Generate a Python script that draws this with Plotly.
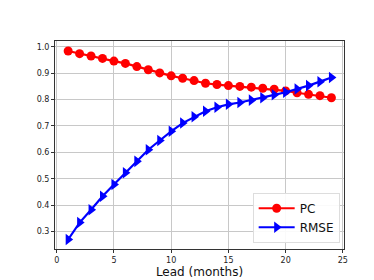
import plotly.graph_objects as go

lead = list(range(1, 25))
pc = [0.984, 0.974, 0.965, 0.956, 0.946, 0.937, 0.925, 0.913, 0.901, 0.890, 0.881, 0.872,
      0.862, 0.857, 0.853, 0.850, 0.847, 0.843, 0.839, 0.833, 0.826, 0.820, 0.815, 0.807]
rmse = [0.270, 0.334, 0.383, 0.434, 0.478, 0.523, 0.566, 0.610, 0.645, 0.680, 0.711, 0.735,
        0.756, 0.771, 0.782, 0.789, 0.798, 0.807, 0.818, 0.828, 0.840, 0.853, 0.868, 0.884]
x_ticks = [0, 5, 10, 15, 20, 25]
y_ticks = [0.3, 0.4, 0.5, 0.6, 0.7, 0.8, 0.9, 1.0]

fig = go.Figure()
fig.add_trace(go.Scatter(x=lead, y=pc, name="PC", mode="lines+markers",
                         line=dict(color="#ff0000", width=2.2),
                         marker=dict(symbol="circle", size=9, color="#ff0000")))
fig.add_trace(go.Scatter(x=lead, y=rmse, name="RMSE", mode="lines+markers",
                         line=dict(color="#0000ff", width=2.2),
                         marker=dict(symbol="triangle-right", size=10, color="#0000ff")))

axis_common = dict(showline=True, linecolor="#333333", linewidth=1, mirror=True,
                   ticks="outside", ticklen=3, tickcolor="#333333",
                   showgrid=True, gridcolor="#c8c8c8", gridwidth=1, zeroline=False,
                   tickfont=dict(family="DejaVu Sans", size=8, color="#222222"))

fig.update_xaxes(range=[-0.15, 25.1], tickvals=x_ticks,
                 title=dict(text="Lead (months)", font=dict(family="DejaVu Sans", size=12, color="#111111"),
                            standoff=3),
                 **axis_common)
fig.update_yaxes(range=[0.234, 1.022], tickvals=y_ticks, tickformat=".1f", **axis_common)

fig.update_layout(width=374, height=280,
                  margin=dict(l=47, r=38, t=33, b=31),
                  paper_bgcolor="white", plot_bgcolor="white",
                  legend=dict(x=0.985, y=0.03, xanchor="right", yanchor="bottom",
                              bgcolor="rgba(255,255,255,0.9)", bordercolor="#dddddd", borderwidth=1,
                              font=dict(family="DejaVu Sans", size=12, color="#111111"),
                              itemwidth=36, tracegroupgap=0),
                  showlegend=True)

fig.write_html("out.html")
